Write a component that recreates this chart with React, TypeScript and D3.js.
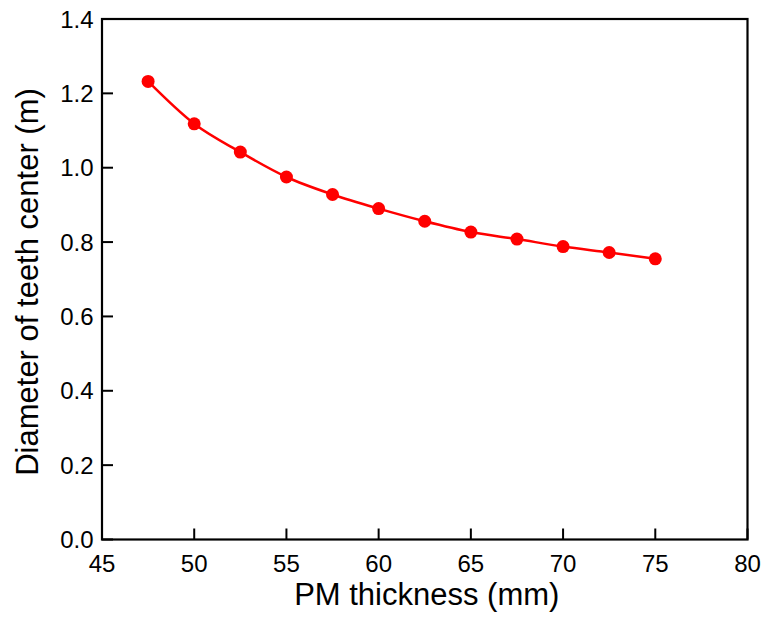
import React from "react";
import * as d3 from "d3";

const thickness = [47.5, 50, 52.5, 55, 57.5, 60, 62.5, 65, 67.5, 70, 72.5, 75];
const diameter = [1.232, 1.118, 1.042, 0.975, 0.928, 0.89, 0.856, 0.827, 0.808, 0.788, 0.772, 0.755];
const xTicks = [45, 50, 55, 60, 65, 70, 75, 80];
const yTicks = [0, 0.2, 0.4, 0.6, 0.8, 1.0, 1.2, 1.4];

const W = 766;
const H = 619;
const L = 102, R = 747.5, T = 19, B = 539.5;
const FONT = "'Liberation Sans', Arial, sans-serif";

export default function App() {
  const x = d3.scaleLinear().domain([45, 80]).range([L, R]);
  const y = d3.scaleLinear().domain([0, 1.4]).range([B, T]);
  const pts = thickness.map((t, i) => [t, diameter[i]] as [number, number]);
  const line = d3
    .line<[number, number]>()
    .x((d) => x(d[0]))
    .y((d) => y(d[1]))
    .curve(d3.curveMonotoneX);
  const tick = 11;
  return (
    <svg
      width={W}
      height={H}
      style={{ position: "absolute", left: 0, top: 0, background: "#fff" }}
      fontFamily={FONT}
    >
      <rect x={0} y={0} width={W} height={H} fill="#fff" />
      {xTicks.map((t) => (
        <g key={"x" + t}>
          <line x1={x(t)} x2={x(t)} y1={B} y2={B - tick} stroke="#000" strokeWidth={2} />
          <text x={x(t)} y={572} fontSize={24} textAnchor="middle" fill="#000">
            {t}
          </text>
        </g>
      ))}
      {yTicks.map((t) => (
        <g key={"y" + t}>
          <line x1={L} x2={L + tick} y1={y(t)} y2={y(t)} stroke="#000" strokeWidth={2} />
          <text x={93.5} y={y(t) + 8.6} fontSize={24} textAnchor="end" fill="#000">
            {d3.format(".1f")(t)}
          </text>
        </g>
      ))}
      <rect x={L} y={T} width={R - L} height={B - T} fill="none" stroke="#000" strokeWidth={2.2} />
      <path d={line(pts) || ""} fill="none" stroke="#ff0000" strokeWidth={2.5} />
      {pts.map((p, i) => (
        <circle key={i} cx={x(p[0])} cy={y(p[1])} r={6.5} fill="#ff0000" />
      ))}
      <text x={(L + R) / 2 + 2} y={605} fontSize={31} textAnchor="middle" fill="#000">
        PM thickness (mm)
      </text>
      <text
        transform={`translate(37.5, 282) rotate(-90)`}
        fontSize={31}
        textAnchor="middle"
        fill="#000"
      >
        Diameter of teeth center (m)
      </text>
    </svg>
  );
}
